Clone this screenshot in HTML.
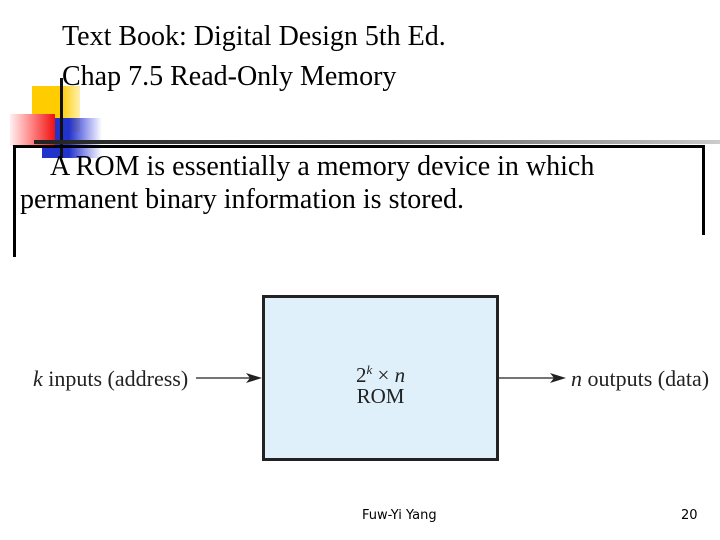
<!DOCTYPE html>
<html><head><style>
body{margin:0;width:720px;height:540px;background:#fff;position:relative;overflow:hidden;font-family:"Liberation Serif",serif;}
.a{position:absolute;white-space:nowrap;}
</style></head><body>
<div class="a" style="left:32px;top:86px;width:48px;height:46px;background:linear-gradient(90deg,#ffcc00 60%,#fff0b0 100%);"></div>
<div class="a" style="left:42px;top:118px;width:60px;height:40px;background:linear-gradient(90deg,#2233cc 45%,rgba(60,70,220,0.5) 75%,rgba(255,255,255,0) 100%);"></div>
<div class="a" style="left:10px;top:114px;width:45px;height:32px;background:linear-gradient(90deg,#fff0f0 0%,#ff8080 50%,#ee1111 100%);"></div>
<div class="a" style="left:60px;top:78px;width:3px;height:80px;background:#111;"></div>
<div class="a" style="left:34px;top:140px;width:686px;height:4px;background:linear-gradient(90deg,#222 0%,#555 50%,#ccc 100%);"></div>
<div class="a" style="left:13px;top:145px;width:692px;height:3px;background:#000;"></div>
<div class="a" style="left:13px;top:145px;width:3px;height:112px;background:#000;"></div>
<div class="a" style="left:702px;top:145px;width:3px;height:90px;background:#000;"></div>
<div class="a" style="left:62px;top:21px;font-size:28px;line-height:32px;">Text Book: Digital Design 5th Ed.</div>
<div class="a" style="left:62px;top:61px;font-size:28px;line-height:32px;">Chap 7.5 Read-Only Memory</div>
<div class="a" style="left:50px;top:151px;font-size:28px;line-height:32px;">A ROM is essentially a memory device in which</div>
<div class="a" style="left:20px;top:184px;font-size:28px;line-height:32px;">permanent binary information is stored.</div>
<div class="a" style="left:262px;top:295px;width:231px;height:160px;background:#dff0fb;border:3px solid #222;"></div>
<div class="a" style="left:262px;top:359px;width:237px;text-align:center;font-size:21px;line-height:21px;color:#222;">2<sup style="font-size:13px;font-style:italic">k</sup> × <i>n</i><br>ROM</div>
<div class="a" style="left:33px;top:366px;font-size:22px;color:#222;"><i>k</i> inputs (address)</div>
<div class="a" style="left:571px;top:366px;font-size:22px;color:#222;"><i>n</i> outputs (data)</div>
<svg class="a" style="left:0;top:0" width="720" height="540">
<line x1="196" y1="378" x2="252" y2="378" stroke="#222" stroke-width="1.3"/>
<polygon points="262,378 246,373 250,378 246,383" fill="#222"/>
<line x1="498" y1="378" x2="556" y2="378" stroke="#222" stroke-width="1.3"/>
<polygon points="566,378 550,373 554,378 550,383" fill="#222"/>
</svg>
<div class="a" style="left:362px;top:508px;font-family:'DejaVu Sans',sans-serif;font-size:13px;">Fuw-Yi Yang</div>
<div class="a" style="left:681px;top:508px;font-family:'DejaVu Sans',sans-serif;font-size:13px;">20</div>
</body></html>
